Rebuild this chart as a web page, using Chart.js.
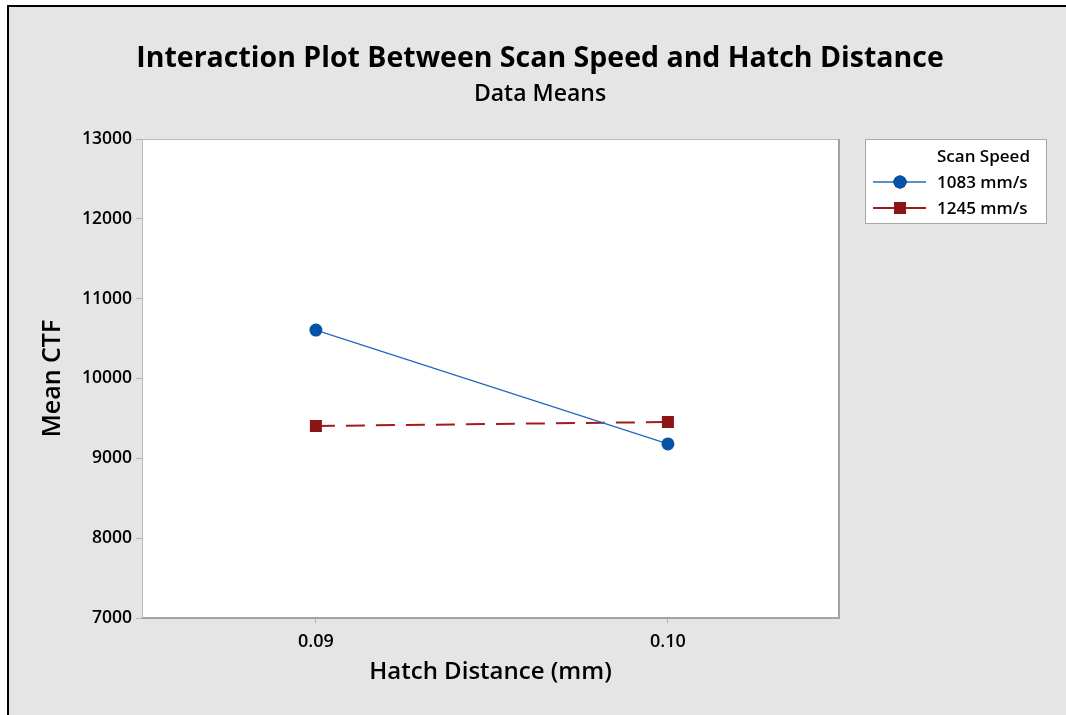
<!DOCTYPE html>
<html>
<head>
<meta charset="utf-8">
<script src="https://cdn.jsdelivr.net/npm/chart.js@4/dist/chart.umd.min.js"></script>
<style>
  html, body { margin: 0; padding: 0; background: #fff; }
  #wrap { width: 1066px; height: 715px; }
</style>
</head>
<body>
<div id="wrap"><canvas id="ctfChart" width="1066" height="715"></canvas></div>
<script>
// Data
var hatchValues = [0.09, 0.10];
var speed1083 = [10607, 9180];
var speed1245 = [9405, 9455];
var seriesNames = ['1083 mm/s', '1245 mm/s'];
var yTicks = [7000, 8000, 9000, 10000, 11000, 12000, 13000];

var FONT = "'Open Sans', 'Noto Sans', sans-serif";

function toPoints(vals) {
    return vals.map(function(v, i) { return { x: hatchValues[i], y: v }; });
}

// Frame, plot area background, titles and legend box
var decorPlugin = {
    id: 'decor',
    beforeDraw: function(chart) {
        var ctx = chart.ctx;
        var a = chart.chartArea;
        ctx.save();
        ctx.fillStyle = '#ffffff';
        ctx.fillRect(0, 0, chart.width, chart.height);
        ctx.fillStyle = '#e5e5e5';
        ctx.fillRect(9, 7, chart.width - 9, chart.height - 7);
        // black outer frame (top + left)
        ctx.strokeStyle = '#000';
        ctx.lineWidth = 2;
        ctx.beginPath();
        ctx.moveTo(8, chart.height);
        ctx.lineTo(8, 6);
        ctx.lineTo(chart.width, 6);
        ctx.stroke();
        // plot area
        ctx.fillStyle = '#ffffff';
        ctx.fillRect(a.left, a.top, a.right - a.left, a.bottom - a.top);
        ctx.restore();
    },
    afterDraw: function(chart) {
        var ctx = chart.ctx;
        var a = chart.chartArea;
        ctx.save();
        // plot area border
        ctx.lineWidth = 1;
        ctx.strokeStyle = '#b9b9b9';
        ctx.beginPath();
        ctx.moveTo(a.left + 0.5, a.bottom);
        ctx.lineTo(a.left + 0.5, a.top + 0.5);
        ctx.lineTo(a.right, a.top + 0.5);
        ctx.stroke();
        ctx.lineWidth = 2;
        ctx.strokeStyle = '#a3a3a3';
        ctx.beginPath();
        ctx.moveTo(a.right, a.top);
        ctx.lineTo(a.right, a.bottom);
        ctx.lineTo(a.left, a.bottom);
        ctx.stroke();

        // titles
        ctx.fillStyle = '#000';
        ctx.textAlign = 'center';
        ctx.textBaseline = 'middle';
        ctx.font = 'bold 28.5px ' + FONT;
        ctx.fillText('Interaction Plot Between Scan Speed and Hatch Distance', 540, 59);
        ctx.font = '600 23px ' + FONT;
        ctx.fillText('Data Means', 540, 94);

        // legend
        var bx = 865, by = 139, bw = 181, bh = 84;
        ctx.fillStyle = '#ffffff';
        ctx.fillRect(bx, by, bw, bh);
        ctx.lineWidth = 1;
        ctx.strokeStyle = '#a8a8a8';
        ctx.strokeRect(bx + 0.5, by + 0.5, bw, bh);
        ctx.fillStyle = '#000';
        ctx.textAlign = 'left';
        ctx.font = '600 17px ' + FONT;
        ctx.fillText('Scan Speed', 937, 157);
        chart.data.datasets.forEach(function(ds, i) {
            var y = 182 + i * 26;
            ctx.save();
            ctx.strokeStyle = ds.borderColor;
            ctx.lineWidth = ds.borderWidth;
            ctx.beginPath();
            ctx.moveTo(873, y);
            ctx.lineTo(926, y);
            ctx.stroke();
            ctx.restore();
            Chart.helpers.drawPoint(ctx, {
                pointStyle: ds.pointStyle,
                radius: ds.pointRadius,
                borderWidth: 0,
                rotation: 0
            }, 900, y);
            ctx.fillStyle = ds.pointBackgroundColor;
            ctx.fill();
            ctx.fillStyle = '#000';
            ctx.font = '600 17px ' + FONT;
            ctx.fillText(seriesNames[i], 937, y + 1);
        });
        ctx.restore();
    }
};

var ctx = document.getElementById('ctfChart').getContext('2d');
var ctfChart = new Chart(ctx, {
    type: 'line',
    data: {
        datasets: [{
            label: seriesNames[0],
            data: toPoints(speed1083),
            borderColor: '#2468bd',
            borderWidth: 1.3,
            pointStyle: 'circle',
            pointRadius: 6.5,
            pointBackgroundColor: '#0553a6',
            pointBorderColor: '#0553a6',
            pointBorderWidth: 0,
            fill: false,
            tension: 0
        }, {
            label: seriesNames[1],
            data: toPoints(speed1245),
            borderColor: '#a31b1b',
            borderWidth: 2,
            borderDash: [19, 11],
            pointStyle: 'rect',
            pointRadius: 8.5,
            pointBackgroundColor: '#8c1414',
            pointBorderColor: '#8c1414',
            pointBorderWidth: 0,
            fill: false,
            tension: 0
        }]
    },
    options: {
        responsive: false,
        animation: false,
        layout: {
            padding: { left: 8, right: 227, top: 139, bottom: 0 }
        },
        plugins: {
            legend: { display: false },
            title: { display: false },
            tooltip: { enabled: false }
        },
        scales: {
            x: {
                type: 'linear',
                min: 0.08506,
                max: 0.10486,
                afterFit: function(scale) { scale.height = 97; },
                afterBuildTicks: function(scale) {
                    scale.ticks = hatchValues.map(function(v) { return { value: v }; });
                },
                grid: {
                    display: true,
                    drawOnChartArea: false,
                    drawTicks: true,
                    tickLength: 5,
                    color: '#b4b4b4'
                },
                border: { display: false },
                ticks: {
                    color: '#000',
                    padding: 8,
                    maxRotation: 0,
                    font: { family: FONT, size: 18, weight: '600' },
                    callback: function(v) { return Number(v).toFixed(2); }
                },
                title: {
                    display: true,
                    text: 'Hatch Distance (mm)',
                    color: '#000',
                    padding: { top: 0, bottom: 28 },
                    font: { family: FONT, size: 24, weight: '600' }
                }
            },
            y: {
                min: yTicks[0],
                max: yTicks[yTicks.length - 1],
                afterFit: function(scale) { scale.width = 134; },
                afterBuildTicks: function(scale) {
                    scale.ticks = yTicks.map(function(v) { return { value: v }; });
                },
                grid: {
                    display: true,
                    drawOnChartArea: false,
                    drawTicks: true,
                    tickLength: 6,
                    color: '#b4b4b4'
                },
                border: { display: false },
                ticks: {
                    color: '#000',
                    padding: 4,
                    font: { family: FONT, size: 17.5, weight: '600' },
                    callback: function(v) { return String(v); }
                },
                title: {
                    display: true,
                    text: 'Mean CTF',
                    color: '#000',
                    padding: { top: 30, bottom: 0 },
                    font: { family: FONT, size: 25, weight: '600' }
                }
            }
        }
    },
    plugins: [decorPlugin]
});
</script>
</body>
</html>
